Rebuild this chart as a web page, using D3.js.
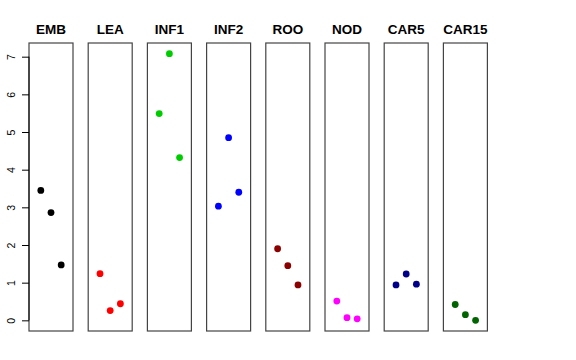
<!DOCTYPE html>
<html>
<head>
<meta charset="utf-8">
<script src="https://cdn.jsdelivr.net/npm/d3@7"></script>
<style>
  body { margin: 0; background: #fff; }
  svg { display: block; }
</style>
</head>
<body>
<div class="canva"></div>
<script>
// groups, one panel each
const groups = ["EMB", "LEA", "INF1", "INF2", "ROO", "NOD", "CAR5", "CAR15"];
const colours = ["#000000", "#ff0000", "#00cd00", "#0000ff", "#8b0000", "#ff00ff", "#00008b", "#006400"];

// three replicate values per group (x = 1, 2, 3)
const EMB = [3.45, 2.86, 1.47];
const LEA = [1.24, 0.26, 0.44];
const INF1 = [5.49, 7.08, 4.32];
const INF2 = [3.03, 4.85, 3.40];
const ROO = [1.90, 1.45, 0.94];
const NOD = [0.51, 0.07, 0.04];
const CAR5 = [0.94, 1.23, 0.96];
const CAR15 = [0.42, 0.15, 0.00];
const values = [EMB, LEA, INF1, INF2, ROO, NOD, CAR5, CAR15];

const yTicks = [0, 1, 2, 3, 4, 5, 6, 7];

const W = 576, H = 360;
const plotTop = 43, plotBottom = 331;
const panelW = 44, left0 = 29, step = 59.2;

const svg = d3.select(".canva").append("svg")
              .attr("width", W)
              .attr("height", H);

// shared y scale, R style 4% padding around 0..7.08
const y = d3.scaleLinear().domain([-0.2832, 7.3632]).range([plotBottom, plotTop]);

// x within a panel: xlim 0..4 padded
const x = d3.scaleLinear().domain([-0.16, 4.16]).range([0, panelW]);

groups.forEach((g, i) => {
  const gx = left0 + i * step;
  const panel = svg.append("g").attr("transform", `translate(${gx},0)`);

  panel.append("rect")
       .attr("x", 0)
       .attr("y", plotTop)
       .attr("width", panelW)
       .attr("height", plotBottom - plotTop)
       .attr("fill", "none")
       .attr("stroke", "#444")
       .attr("stroke-width", 1.2);

  panel.append("text")
       .text(g)
       .attr("x", panelW / 2)
       .attr("y", 34)
       .attr("text-anchor", "middle")
       .attr("font-family", "Liberation Sans, Arial, sans-serif")
       .attr("font-size", 13.5)
       .attr("font-weight", "bold")
       .attr("fill", "#000");

  panel.selectAll("circle")
       .data(values[i])
       .enter().append("circle")
       .attr("cx", (d, j) => x(j + 1))
       .attr("cy", d => y(d))
       .attr("r", 3.4)
       .attr("fill", colours[i]);
});

// y axis on the first panel
const axis = d3.axisLeft(y)
               .tickValues(yTicks)
               .tickSize(7)
               .tickPadding(4)
               .tickFormat(d3.format("d"));

const ax = svg.append("g")
              .attr("transform", `translate(${left0},0)`)
              .call(axis);

ax.select(".domain")
  .attr("d", `M0,${y(0)}V${y(7)}`)
  .attr("stroke", "#000");

ax.selectAll(".tick line").attr("stroke", "#000");

ax.selectAll(".tick text")
  .attr("font-family", "Liberation Sans, Arial, sans-serif")
  .attr("font-size", 10.5)
  .attr("fill", "#000")
  .attr("x", null)
  .attr("dy", null)
  .attr("text-anchor", "middle")
  .attr("transform", "translate(-17,0) rotate(-90)")
  .attr("dominant-baseline", "middle");
</script>
</body>
</html>
